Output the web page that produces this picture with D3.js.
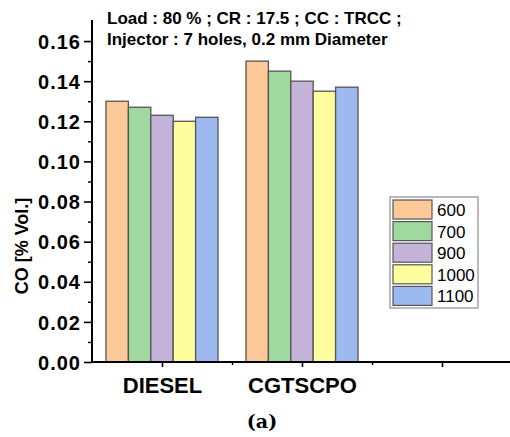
<!DOCTYPE html>
<html>
<head>
<meta charset="utf-8">
<script src="https://cdn.jsdelivr.net/npm/d3@7"></script>
<style>
  body { margin: 0; background: #fff; }
  svg { display: block; font-family: "Liberation Sans", Arial, sans-serif; }
</style>
</head>
<body>
<div id="chart"></div>
<script>
// data
const categories = ["DIESEL", "CGTSCPO"];
const series = ["600", "700", "900", "1000", "1100"];
const valuesDiesel = [0.130, 0.127, 0.123, 0.120, 0.122];
const valuesCgtscpo = [0.150, 0.145, 0.140, 0.135, 0.137];
const seriesColors = ["#FDC998", "#A0D9A0", "#C3B3D8", "#FEFE9E", "#9CBAF0"];
const yTicks = [0, 0.02, 0.04, 0.06, 0.08, 0.10, 0.12, 0.14, 0.16];

const W = 510, H = 437;
const svg = d3.select("#chart").append("svg")
  .attr("width", W)
  .attr("height", H);

// x runs over category index; 1 = DIESEL, 2 = CGTSCPO, 3 = empty slot
const x = d3.scaleLinear().domain([0.5, 3.5]).range([92, 512]);
const y = d3.scaleLinear().domain([0, 0.1705]).range([362, 20]);

const rows = categories.map((c, i) => ({
  cat: c,
  idx: i + 1,
  vals: i === 0 ? valuesDiesel : valuesCgtscpo
}));

const groupW = 0.8;
const barW = groupW / series.length;

// bars
rows.forEach(r => {
  svg.append("g").selectAll("rect")
    .data(r.vals)
    .enter()
    .append("rect")
    .attr("x", (d, j) => x(r.idx - groupW / 2 + j * barW))
    .attr("y", d => y(d))
    .attr("width", x(barW) - x(0))
    .attr("height", d => y(0) - y(d))
    .attr("fill", (d, j) => seriesColors[j])
    .attr("stroke", "#555")
    .attr("stroke-width", 1.3);
});

// y axis: major ticks with labels, minor ticks in between
const yAxis = svg.append("g")
  .attr("transform", `translate(${x(0.5)},0)`)
  .call(d3.axisLeft(y).tickValues(yTicks).tickSize(8).tickPadding(3)
    .tickFormat(d3.format(".2f")));
yAxis.select(".domain").attr("stroke-width", 2).attr("d", `M0,${y(0)}V${y(0.1705)}`);
yAxis.selectAll(".tick line").attr("stroke-width", 1.6);
yAxis.selectAll("text")
  .style("font-size", "20px")
  .style("font-weight", "bold")
  .style("letter-spacing", "1px")
  .attr("dy", "0.36em");

svg.append("g")
  .attr("transform", `translate(${x(0.5)},0)`)
  .call(d3.axisLeft(y).tickValues(d3.range(0.01, 0.17, 0.02)).tickSize(4).tickFormat(""))
  .call(g => g.select(".domain").remove())
  .selectAll(".tick line").attr("stroke-width", 1.4);

// x axis
const xAxis = svg.append("g")
  .attr("transform", `translate(0,${y(0)})`)
  .call(d3.axisBottom(x).tickValues([1, 2, 3]).tickSize(5).tickPadding(10)
    .tickFormat(d => categories[d - 1] || ""));
xAxis.select(".domain").attr("stroke-width", 2).attr("d", `M${x(0.5)},0H${W}`);
xAxis.selectAll(".tick line").attr("stroke-width", 1.6);
xAxis.selectAll("text")
  .style("font-size", "22px")
  .style("font-weight", "bold");

svg.append("g")
  .attr("transform", `translate(0,${y(0)})`)
  .call(d3.axisBottom(x).tickValues([1.5, 2.5]).tickSize(3).tickFormat(""))
  .call(g => g.select(".domain").remove())
  .selectAll(".tick line").attr("stroke-width", 1.4);

// axis title
svg.append("text")
  .attr("transform", `translate(28,246)rotate(-90)`)
  .attr("text-anchor", "middle")
  .style("font-size", "18px")
  .style("font-weight", "bold")
  .text("CO [% Vol.]");

// annotation
svg.append("text")
  .attr("x", 107)
  .attr("y", 24)
  .style("font-size", "17px")
  .style("font-weight", "bold")
  .text("Load : 80 % ; CR : 17.5 ; CC : TRCC ;")
  .append("tspan")
  .attr("x", 107)
  .attr("dy", "1.24em")
  .text("Injector : 7 holes, 0.2 mm Diameter");

// legend
const legend = svg.append("g").attr("transform", "translate(390,197)");
legend.append("rect")
  .attr("width", 88)
  .attr("height", 111)
  .attr("fill", "#fff")
  .attr("stroke", "#777")
  .attr("stroke-width", 1);
const item = legend.selectAll(".item")
  .data(series)
  .enter()
  .append("g")
  .attr("transform", (d, i) => `translate(3,${3 + i * 21.6})`);
item.append("rect")
  .attr("width", 39)
  .attr("height", 19)
  .attr("fill", (d, i) => seriesColors[i])
  .attr("stroke", "#555")
  .attr("stroke-width", 1.2);
item.append("text")
  .attr("x", 44)
  .attr("y", 16)
  .style("font-size", "17px")
  .text(d => d);

// caption
svg.append("text")
  .attr("x", 262)
  .attr("y", 428)
  .attr("text-anchor", "middle")
  .style("font-family", "'DejaVu Serif', serif")
  .style("font-size", "19px")
  .style("font-weight", "bold")
  .text("(a)");
</script>
</body>
</html>
